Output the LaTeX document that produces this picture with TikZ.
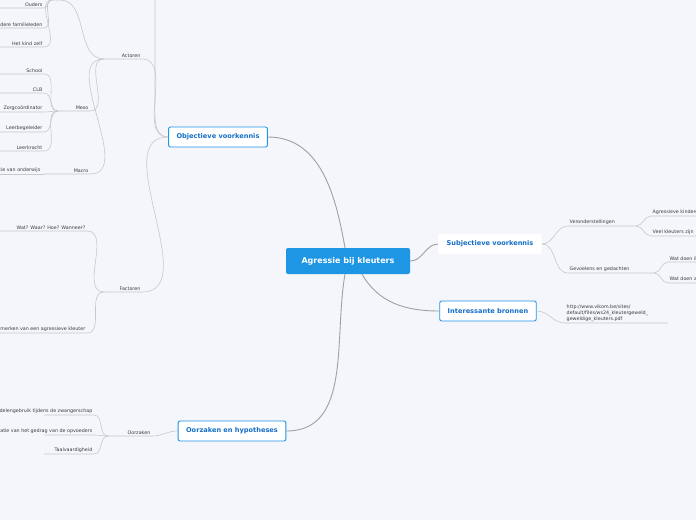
\documentclass[tikz,border=0pt]{standalone}
\usepackage{fontspec}
\setmainfont{DejaVu Sans}
\definecolor{bg}{RGB}{244,246,252}
\definecolor{mblue}{RGB}{30,150,228}
\definecolor{dblue}{RGB}{20,110,200}
\definecolor{lgrey}{RGB}{200,200,200}
\definecolor{txt}{RGB}{60,60,60}

\begin{document}
\begin{tikzpicture}[x=1pt,y=-1pt]
      \tikzset{
        topic/.style={draw=mblue,fill=white,rounded corners=2pt,line width=0.9pt,text=dblue,font=\fontsize{6.6}{7.5}\selectfont\bfseries,minimum height=20pt,inner xsep=8pt},
        leaf/.style={font=\fontsize{4.8}{5.8}\selectfont,text=txt,inner sep=1.5pt,anchor=south east},
        rleaf/.style={leaf,anchor=south west},
        twig/.style={draw=lgrey,line width=0.6pt},
        trunk/.style={draw=lgrey!80!black,line width=0.9pt}
      }
      \fill[bg] (0,0) rectangle (696,520);
      \useasboundingbox (0,0) rectangle (696,520);

      % central topic and main branches
      \node[fill=mblue,rounded corners=2pt,text=white,font=\fontsize{8}{9}\selectfont\bfseries,minimum width=124pt,minimum height=26pt] (C) at (348,261) {Agressie bij kleuters};
      \node[topic] (OV) at (218,137) {Objectieve voorkennis};
      \node[topic,draw=white] (SV) at (490,244) {Subjectieve voorkennis};
      \node[topic] (IB) at (488,311) {Interessante bronnen};
      \node[topic] (OH) at (232,431) {Oorzaken en hypotheses};

      \draw[trunk] (C.north) ++(-3,0) to[out=100,in=0] (OV.east);
      \draw[trunk] (C.south) ++(-3,0) to[out=-100,in=0] (OH.east);
      \draw[trunk] (C.east) to[out=0,in=180] (SV.west);
      \draw[trunk] (C.south) ++(14,0) to[out=-60,in=180] (IB.west);

      % objectieve voorkennis
      \node[leaf] (ACT) at (142,59) {Actoren};
      \node[leaf] (FAC) at (142,292) {Factoren};
      \coordinate (TOP) at (155,-20);
      \draw[twig] (OV.west) to[out=180,in=-90] (155,100) -- (TOP);
      \draw[twig] (OV.west) to[out=180,in=0] (ACT.south east) -- (104,59);
      \draw[twig] (OV.west) to[out=180,in=0] (FAC.south east) -- (104,292);

      \node[leaf] (MES) at (90,111) {Meso};
      \node[leaf] (MAC) at (90,174) {Macro};
      \coordinate (ANON) at (60,0);
      \draw[twig] (104,59) to[out=180,in=0] (ANON) -- (52,0);
      \draw[twig] (104,59) to[out=180,in=0] (MES.south east) -- (58,111);
      \draw[twig] (104,59) to[out=180,in=0] (MAC.south east) -- (44,174);

      \foreach \name/\y/\txt in {OU/8/Ouders, FA/28/Andere familieleden, KZ/47/Het kind zelf}{
        \node[leaf] (\name) at (44,\y) {\txt};
        \draw[twig] (52,0) to[out=180,in=0] (\name.south east) -- (0,\y);
      }
      \foreach \name/\y/\txt in {SC/74/School, CL/93/CLB, ZC/112/Zorgcoördinator, LB/132/Leerbegeleider, LK/151/Leerkracht}{
        \node[leaf] (\name) at (44,\y) {\txt};
        \draw[twig] (58,111) to[out=180,in=0] (\name.south east) -- (0,\y);
      }
      \node[leaf] (OO) at (42,174) {Organisatie van onderwijs};
      \draw[twig] (44,174) -- (0,174);

      \node[leaf] (WW) at (87,231) {Wat? Waar? Hoe? Wanneer?};
      \node[leaf] (KM) at (87,333) {Kenmerken van een agressieve kleuter};
      \draw[twig] (104,292) to[out=180,in=0] (WW.south east) -- (0,231);
      \draw[twig] (104,292) to[out=180,in=0] (KM.south east) -- (0,333);

      % oorzaken en hypotheses
      \node[leaf] (OZ) at (152,436) {Oorzaken};
      \draw[twig] (OH.west) to[out=180,in=0] (OZ.south east) -- (108,436);
      \foreach \name/\y/\txt in {MG/415/Middelengebruik tijdens de zwangerschap, IM/435/Imitatie van het gedrag van de opvoeders, TV/454/Taalvaardigheid}{
        \node[leaf] (\name) at (94,\y) {\txt};
        \draw[twig] (108,436) to[out=180,in=0] (\name.south east) -- (44,\y);
      }

      % subjectieve voorkennis
      \node[rleaf] (VO) at (568,226) {Veronderstellingen};
      \node[rleaf] (GG) at (568,273) {Gevoelens en gedachten};
      \draw[twig] (SV.east) to[out=0,in=180] (VO.south west) -- (636,226);
      \draw[twig] (SV.east) to[out=0,in=180] (GG.south west) -- (654,273);
      \node[rleaf] (AK) at (651,216) {Agressieve kinderen};
      \node[rleaf] (VK) at (651,236) {Veel kleuters zijn};
      \draw[twig] (636,226) to[out=0,in=180] (AK.south west) -- (696,216);
      \draw[twig] (636,226) to[out=0,in=180] (VK.south west) -- (696,236);
      \node[rleaf] (WD1) at (668,262) {Wat doen ik};
      \node[rleaf] (WD2) at (668,283) {Wat doen zij};
      \draw[twig] (654,273) to[out=0,in=180] (WD1.south west) -- (696,262);
      \draw[twig] (654,273) to[out=0,in=180] (WD2.south west) -- (696,283);

      % interessante bronnen
      \node[rleaf,align=left] (URL) at (565,323) {http://www.vikom.be/sites/\\default/files/ws24\_kleutergeweld\_\\geweldige\_kleuters.pdf};
      \draw[twig] (IB.east) to[out=0,in=180] (URL.south west) -- (668,323);
\end{tikzpicture}
\end{document}
